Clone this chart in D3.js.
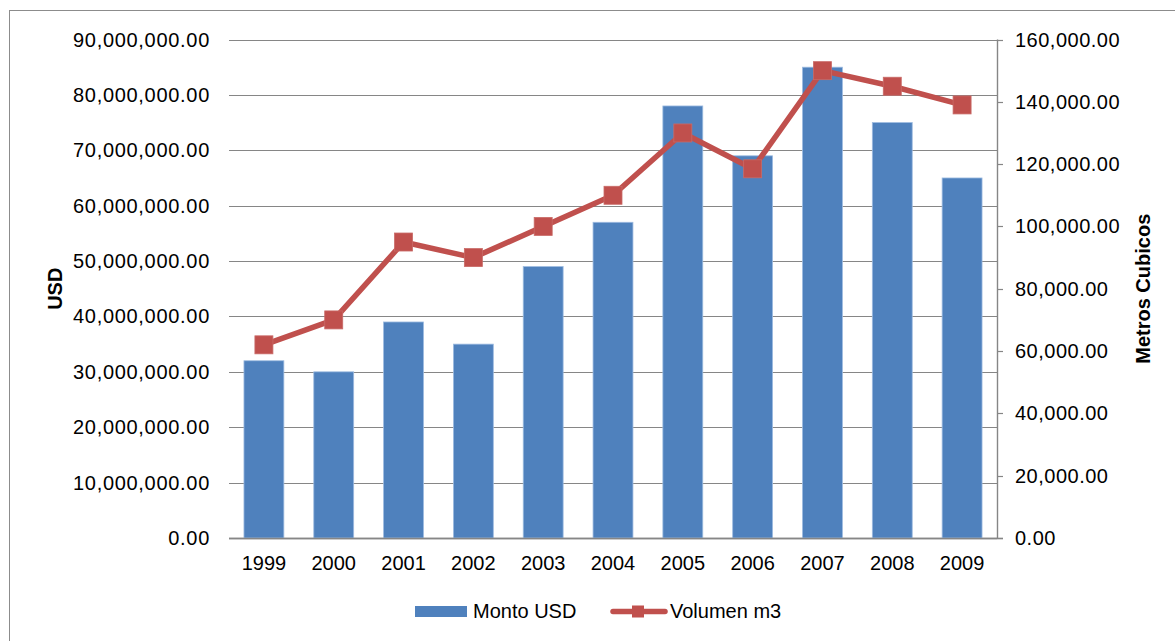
<!DOCTYPE html>
<html>
<head>
<meta charset="utf-8">
<script src="https://cdn.jsdelivr.net/npm/d3@7"></script>
<style>
  body { margin: 0; background: #fff; }
  text { font-family: "Liberation Sans", Arial, sans-serif; fill: #000; }
</style>
</head>
<body>
<div id="canvas"></div>
<script>
// chart data
const years = ["1999", "2000", "2001", "2002", "2003", "2004", "2005", "2006", "2007", "2008", "2009"];
const montoUSD = [32000000, 30000000, 39000000, 35000000, 49000000, 57000000, 78000000, 69000000, 85000000, 75000000, 65000000];
const volumenM3 = [62000, 70000, 95000, 90000, 100000, 110000, 130000, 118500, 150000, 145000, 139000];
const leftTicks = d3.range(0, 90000001, 10000000);
const rightTicks = d3.range(0, 160001, 20000);

const width = 1175;
const height = 641;
const plot = { left: 229, right: 997, top: 39.5, bottom: 538 };
const barColor = "#4F81BD";
const lineColor = "#C0504D";
const gridColor = "#868686";

const svg = d3.select("#canvas")
    .append("svg")
    .attr("width", width)
    .attr("height", height);

// outer frame of the chart area
svg.append("rect")
    .attr("x", 9.5)
    .attr("y", 10.5)
    .attr("width", width + 20)
    .attr("height", height + 20)
    .attr("fill", "none")
    .attr("stroke", "#8c8c8c")
    .attr("stroke-width", 1);

const x = d3.scaleBand()
    .domain(years)
    .range([plot.left, plot.right])
    .paddingInner(0.75 / 1.75)
    .paddingOuter(0.75 / 3.5);
const yLeft = d3.scaleLinear().domain([0, 90000000]).range([plot.bottom, plot.top]);
const yRight = d3.scaleLinear().domain([0, 160000]).range([plot.bottom, plot.top]);
const fmt = d3.format(",.2f");

// gridlines from the left axis
svg.append("g")
    .selectAll("line")
    .data(leftTicks)
    .join("line")
    .attr("x1", plot.left)
    .attr("x2", plot.right)
    .attr("y1", d => Math.round(yLeft(d)) + 0.5)
    .attr("y2", d => Math.round(yLeft(d)) + 0.5)
    .attr("stroke", gridColor)
    .attr("stroke-width", d => d === 0 ? 1.6 : 1.2);

// left axis labels (punctuation is a bit wider in the original font)
svg.append("g")
    .selectAll("text")
    .data(leftTicks)
    .join("text")
    .attr("x", 210)
    .attr("y", d => yLeft(d))
    .attr("dy", "0.35em")
    .attr("text-anchor", "end")
    .attr("font-size", 20)
    .attr("letter-spacing", 0.7)
    .text(d => fmt(d));

// bars
svg.append("g")
    .selectAll("rect")
    .data(montoUSD)
    .join("rect")
    .attr("x", (d, i) => x(years[i]))
    .attr("y", d => yLeft(d))
    .attr("width", x.bandwidth())
    .attr("height", d => plot.bottom - yLeft(d))
    .attr("fill", barColor)
    .attr("stroke", "#9dbbe0")
    .attr("stroke-width", 0.8);

// baseline over the bars
svg.append("line")
    .attr("x1", plot.left)
    .attr("x2", plot.right + 6)
    .attr("y1", plot.bottom + 0.5)
    .attr("y2", plot.bottom + 0.5)
    .attr("stroke", gridColor)
    .attr("stroke-width", 1.6);

// right axis: line, ticks, labels
const rightAxis = svg.append("g");
rightAxis.append("line")
    .attr("x1", plot.right + 0.5)
    .attr("x2", plot.right + 0.5)
    .attr("y1", plot.top)
    .attr("y2", plot.bottom)
    .attr("stroke", gridColor)
    .attr("stroke-width", 1.4);
rightAxis.selectAll(".tick")
    .data(rightTicks)
    .join("line")
    .attr("class", "tick")
    .attr("x1", plot.right)
    .attr("x2", plot.right + 6)
    .attr("y1", d => Math.round(yRight(d)) + 0.5)
    .attr("y2", d => Math.round(yRight(d)) + 0.5)
    .attr("stroke", gridColor)
    .attr("stroke-width", 1.2);
rightAxis.selectAll("text")
    .data(rightTicks)
    .join("text")
    .attr("x", 1015)
    .attr("y", d => yRight(d))
    .attr("dy", "0.35em")
    .attr("font-size", 20)
    .attr("letter-spacing", 0.5)
    .text(d => fmt(d));

// category labels
svg.append("g")
    .selectAll("text")
    .data(years)
    .join("text")
    .attr("x", d => x(d) + x.bandwidth() / 2)
    .attr("y", 570)
    .attr("text-anchor", "middle")
    .attr("font-size", 20)
    .text(d => d);

// volume line with square markers
const line = d3.line()
    .x((d, i) => x(years[i]) + x.bandwidth() / 2)
    .y(d => yRight(d));
svg.append("path")
    .datum(volumenM3)
    .attr("d", line)
    .attr("fill", "none")
    .attr("stroke", lineColor)
    .attr("stroke-width", 5.5)
    .attr("stroke-linejoin", "round");
const mk = 18;
svg.append("g")
    .selectAll("rect")
    .data(volumenM3)
    .join("rect")
    .attr("x", (d, i) => x(years[i]) + x.bandwidth() / 2 - mk / 2)
    .attr("y", d => yRight(d) - mk / 2)
    .attr("width", mk)
    .attr("height", mk)
    .attr("fill", lineColor)
    .attr("stroke", "#c96a67")
    .attr("stroke-width", 0.8);

// axis titles
svg.append("text")
    .attr("transform", `translate(62, ${(plot.top + plot.bottom) / 2}) rotate(-90)`)
    .attr("text-anchor", "middle")
    .attr("font-size", 20)
    .attr("font-weight", "bold")
    .text("USD");
svg.append("text")
    .attr("transform", `translate(1150, ${(plot.top + plot.bottom) / 2}) rotate(-90)`)
    .attr("text-anchor", "middle")
    .attr("font-size", 20)
    .attr("font-weight", "bold")
    .text("Metros Cubicos");

// legend
const legend = svg.append("g");
legend.append("rect")
    .attr("x", 415)
    .attr("y", 606)
    .attr("width", 52)
    .attr("height", 11)
    .attr("fill", barColor);
legend.append("text")
    .attr("x", 473)
    .attr("y", 618)
    .attr("font-size", 20)
    .text("Monto USD");
legend.append("line")
    .attr("x1", 613)
    .attr("x2", 665)
    .attr("y1", 611.5)
    .attr("y2", 611.5)
    .attr("stroke", lineColor)
    .attr("stroke-width", 5.5)
    .attr("stroke-linecap", "round");
legend.append("rect")
    .attr("x", 632)
    .attr("y", 605.5)
    .attr("width", 12)
    .attr("height", 12)
    .attr("fill", lineColor);
legend.append("text")
    .attr("x", 670)
    .attr("y", 618)
    .attr("font-size", 20)
    .text("Volumen m3");
</script>
</body>
</html>
